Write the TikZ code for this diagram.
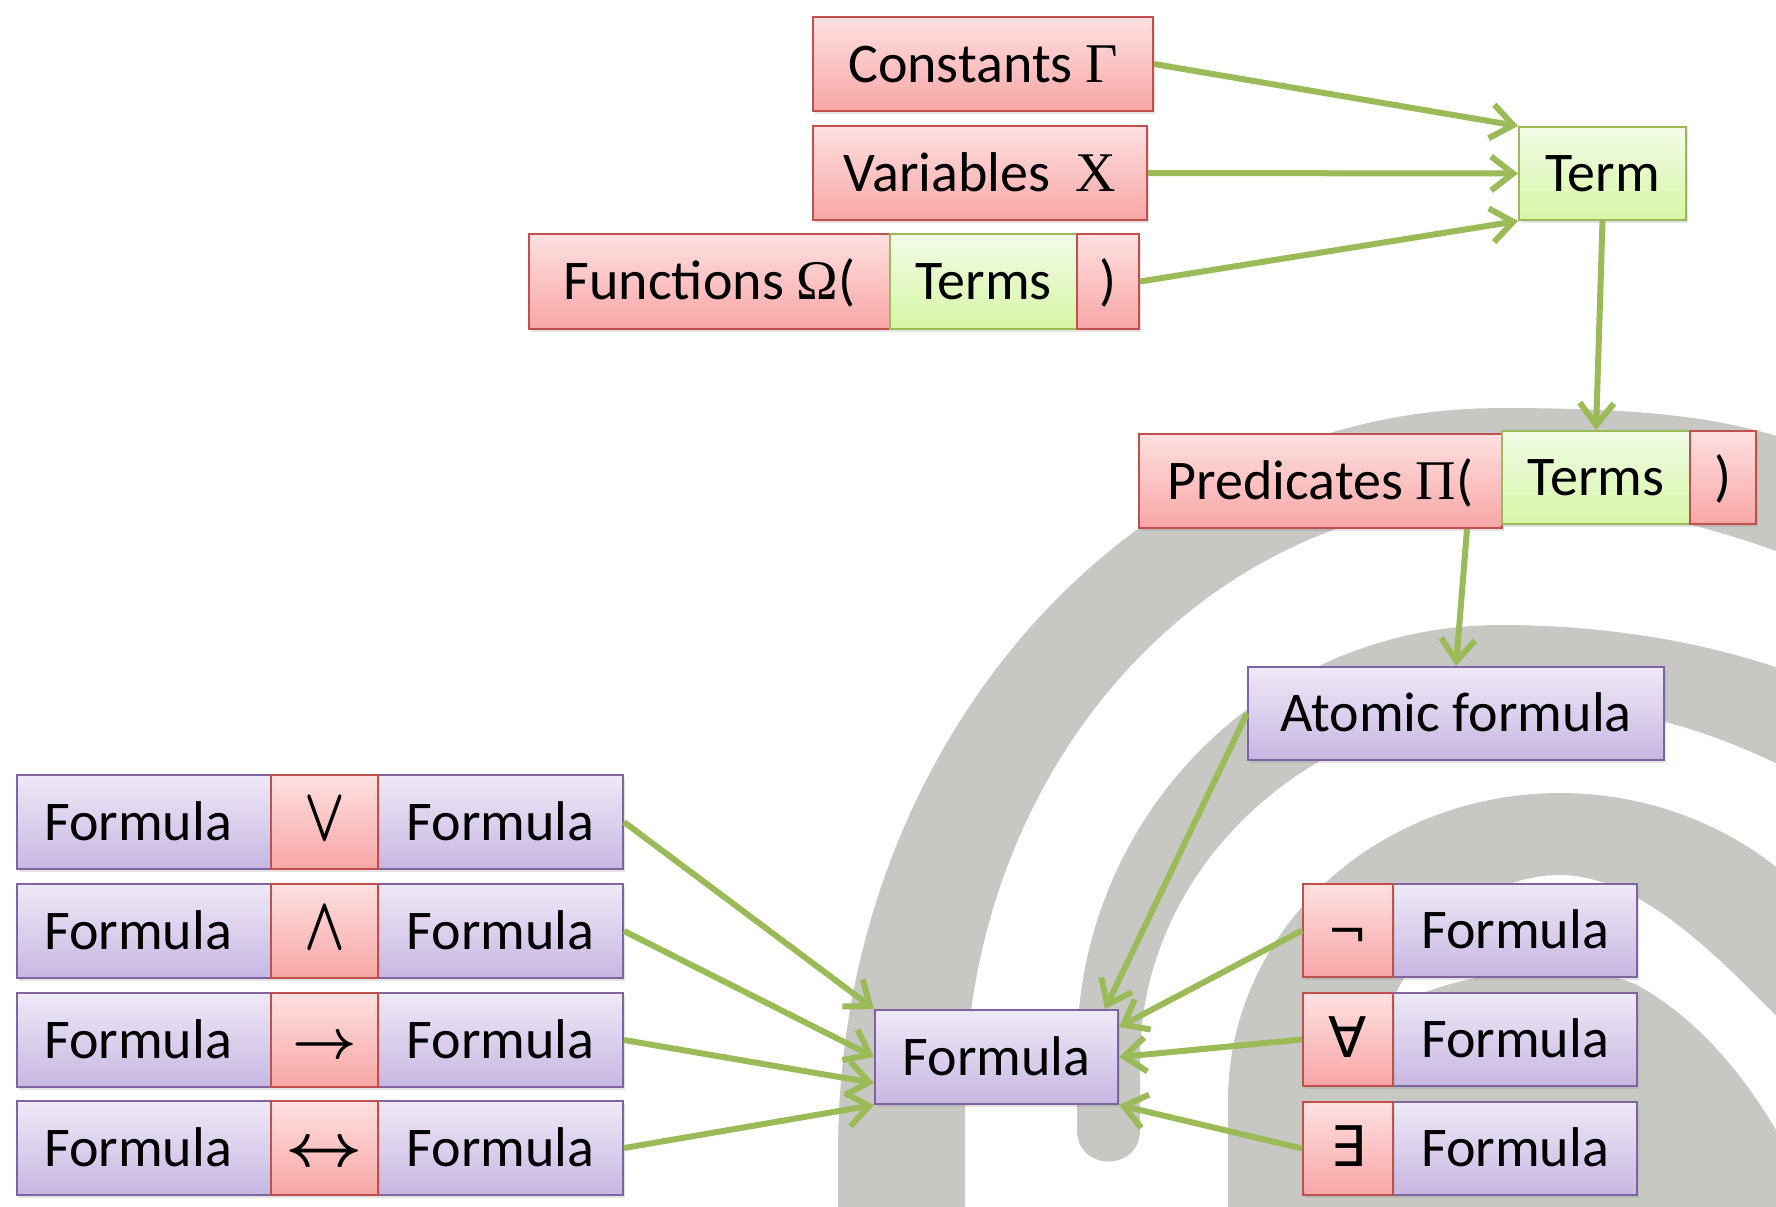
\RequirePackage{fix-cm}
\documentclass[tikz,border=0pt]{standalone}
\usepackage{fontspec}
\setmainfont{Carlito}
\newfontfamily\grk{Liberation Serif}
\newfontfamily\symf{DejaVu Sans}
\usetikzlibrary{arrows.meta,shadows,calc}
\definecolor{redD}{HTML}{C0504D}
\definecolor{redT}{RGB}{254,224,224}
\definecolor{redL}{RGB}{248,166,166}
\definecolor{grnD}{HTML}{9BBB59}
\definecolor{grnT}{RGB}{242,251,230}
\definecolor{grnL}{RGB}{214,246,166}
\definecolor{purD}{HTML}{8064A2}
\definecolor{purT}{RGB}{238,233,247}
\definecolor{purL}{RGB}{199,183,226}
\definecolor{arrG}{HTML}{9BBB59}
\definecolor{spir}{RGB}{199,200,195}
\newcommand{\symOr}{\scalebox{0.95}[1.35]{\boldmath$\vee$}}
\newcommand{\symAnd}{\scalebox{0.95}[1.35]{\boldmath$\wedge$}}
\newcommand{\symImp}{\scalebox{1}{\boldmath$\rightarrow$}}
\newcommand{\symIff}{\scalebox{1.2}[1.1]{\boldmath$\leftrightarrow$}}
\begin{document}
\begin{tikzpicture}[x=0.5pt,y=-0.5pt,
  font=\fontsize{28}{32}\selectfont,
  base/.style={rectangle, inner sep=0pt, anchor=north west, line width=1pt,
    text height=18pt, text depth=0pt,
    drop shadow={opacity=0.22, shadow xshift=1pt, shadow yshift=-1.5pt}},
  redbox/.style={base, draw=redD, top color=redT, bottom color=redL},
  grnbox/.style={base, draw=grnD, top color=grnT, bottom color=grnL},
  purbox/.style={base, draw=purD, top color=purT, bottom color=purL},
  lform/.style={purbox, minimum width=127pt, minimum height=47pt},
  rform/.style={purbox, minimum width=122.5pt, minimum height=47pt},
  opbox/.style={redbox, minimum width=53.5pt, minimum height=47pt},
  arr/.style={draw=arrG, line width=3pt, -{Straight Barb[length=11pt,width=17pt]}},
  spiralfill/.style={fill=spir}]
\useasboundingbox (0,0) rectangle (1776,1206);
\fill[white] (0,0) rectangle (1776,1206);
% background spiral
\begin{scope}
\clip (0,0) rectangle (1776,1206);
% outer band
\fill[spiralfill] (838,1216)
  -- plot[domain=180:270, samples=50, variable=\t] ({1500+662*cos(\t)},{1150+742*sin(\t)})
  .. controls (1650,408) and (1720,418) .. (1790,440)
  -- (1790,556) .. controls (1720,530) and (1620,500) .. (1500,500)
  -- plot[domain=270:180, samples=50, variable=\t] ({1500+535*cos(\t)},{1100+600*sin(\t)})
  -- (965,1216) -- cycle;
% middle band with rounded tail
\fill[spiralfill] (1077,1130)
  -- plot[domain=180:270, samples=50, variable=\t] ({1500+423*cos(\t)},{1050+425*sin(\t)})
  .. controls (1600,625) and (1700,640) .. (1790,672)
  -- (1790,770) .. controls (1700,725) and (1620,705) .. (1530,705)
  -- plot[domain=270:180, samples=50, variable=\t] ({1530+390*cos(\t)},{1060+355*sin(\t)})
  -- (1140,1130) .. controls (1140,1172) and (1077,1172) .. (1077,1130) -- cycle;
% inner band
\fill[spiralfill] (1228,1216)
  -- plot[domain=180:330, samples=70, variable=\t] ({1560+332*cos(\t)},{1100+307*sin(\t)})
  -- (1790,1030) .. controls (1720,958) and (1640,875) .. (1560,875)
  -- plot[domain=270:180, samples=50, variable=\t] ({1560+200*cos(\t)},{1150+275*sin(\t)})
  -- (1360,1216) -- cycle;
% core
\fill[spiralfill] (1355,1216) -- (1355,1060)
  .. controls (1360,980) and (1560,950) .. (1637,985)
  .. controls (1700,1020) and (1750,1080) .. (1790,1155) -- (1790,1216) -- cycle;
\end{scope}
% top part
\node[redbox, minimum width=170pt, minimum height=47pt] (const) at (812,16) {Constants {\grk Γ}};
\node[redbox, minimum width=167pt, minimum height=47pt] (var) at (812,125) {Variables\ \ {\grk Χ}};
\node[redbox, minimum width=180.5pt, minimum height=47.5pt] (func) at (528,233) {Functions {\grk Ω}(};
\node[grnbox, minimum width=93.5pt, minimum height=47.5pt] (fterms) at (889,233) {Terms};
\node[redbox, minimum width=31pt, minimum height=47.5pt] (fclose) at (1076,233) {)};
\node[grnbox, minimum width=83.5pt, minimum height=46.5pt] (term) at (1518,126) {Term};
% predicates
\node[redbox, minimum width=181.5pt, minimum height=47pt] (pred) at (1138,433) {Predicates {\grk Π}(};
\node[grnbox, minimum width=94pt, minimum height=46.5pt] (pterms) at (1501,430) {Terms};
\node[redbox, minimum width=33pt, minimum height=46.5pt] (pclose) at (1689,430) {)};
\node[purbox, minimum width=208pt, minimum height=46.5pt] (atom) at (1247,666) {Atomic formula};
% left rows
\node[lform] (l1) at (16,774) {\hspace*{-6pt}Formula};
\node[rform] (r1) at (377,774) {Formula};
\node[opbox] (o1) at (270,774) {\symOr};
\node[lform] (l2) at (16,883) {\hspace*{-6pt}Formula};
\node[rform] (r2) at (377,883) {Formula};
\node[opbox] (o2) at (270,883) {\symAnd};
\node[lform] (l3) at (16,992) {\hspace*{-6pt}Formula};
\node[rform] (r3) at (377,992) {Formula};
\node[opbox] (o3) at (270,992) {\symImp};
\node[lform] (l4) at (16,1100) {\hspace*{-6pt}Formula};
\node[rform] (r4) at (377,1100) {Formula};
\node[opbox] (o4) at (270,1100) {\symIff};
% centre
\node[purbox, minimum width=121.5pt, minimum height=47pt] (fc) at (874,1009) {Formula};
% right rows
\node[purbox, minimum width=122pt, minimum height=46.5pt] (qf1) at (1392,883) {Formula};
\node[redbox, minimum width=45pt, minimum height=46.5pt] (q1) at (1302,883) {\symf\fontsize{24}{28}\selectfont ¬};
\node[purbox, minimum width=122pt, minimum height=46.5pt] (qf2) at (1392,992) {Formula};
\node[redbox, minimum width=45pt, minimum height=46.5pt] (q2) at (1302,992) {\symf ∀};
\node[purbox, minimum width=122pt, minimum height=46.5pt] (qf3) at (1392,1101) {Formula};
\node[redbox, minimum width=45pt, minimum height=46.5pt] (q3) at (1302,1101) {\symf ∃};
% helper coordinates
\coordinate (predout) at ($(pred.south east)+(-36,0)$);
\coordinate (fcN) at ($(fc.north east)+(-14,0)$);
\coordinate (fcW3) at ($(fc.west)+(0,26)$);
\coordinate (fcE1) at ($(fc.north east)+(0,18)$);
% connectors
\draw[arr] (const.east) -- (term.north west);
\draw[arr] (var.east) -- (term.west);
\draw[arr] (fclose.east) -- (term.south west);
\draw[arr] (term.south) -- (pterms.north);
\draw[arr] (predout) -- (atom.north);
\draw[arr] (atom.west) -- (fcN);
\draw[arr] (r1.east) -- (fc.north west);
\draw[arr] (r2.east) -- (fc.west);
\draw[arr] (r3.east) -- (fcW3);
\draw[arr] (r4.east) -- (fc.south west);
\draw[arr] (q1.west) -- (fcE1);
\draw[arr] (q2.west) -- (fc.east);
\draw[arr] (q3.west) -- (fc.south east);
\end{tikzpicture}
\end{document}
